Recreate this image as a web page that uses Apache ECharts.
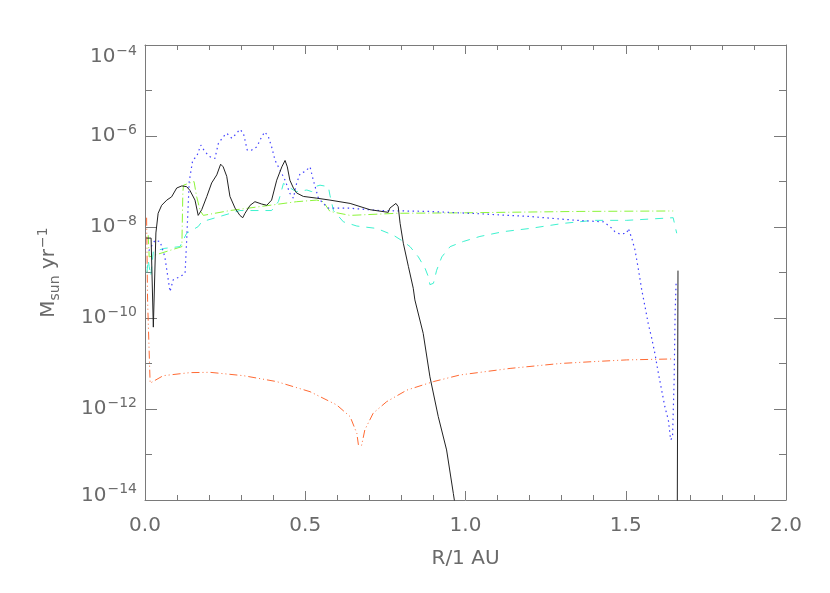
<!DOCTYPE html>
<html>
<head>
<meta charset="utf-8">
<script src="https://cdn.jsdelivr.net/npm/echarts@6/dist/echarts.min.js"></script>
<style>html,body{margin:0;padding:0;background:#fff}#c{width:830px;height:593px}</style>
</head>
<body>
<div id="c"></div>
<script>
// x in units of R/1 AU, y in Msun/yr
var blackData = [[0.004,5.7e-9],[0.019,5.7e-9],[0.026,6.3e-11],[0.034,7.4e-9],[0.041,2.0e-8],[0.052,3.0e-8],[0.068,3.9e-8],[0.083,4.6e-8],[0.099,7.2e-8],[0.115,8.0e-8],[0.130,7.7e-8],[0.140,6.4e-8],[0.156,3.9e-8],[0.166,1.8e-8],[0.177,2.4e-8],[0.193,4.7e-8],[0.208,9.3e-8],[0.224,1.4e-7],[0.236,2.4e-7],[0.244,2.1e-7],[0.255,1.3e-7],[0.265,4.7e-8],[0.281,2.6e-8],[0.296,1.8e-8],[0.305,1.6e-8],[0.312,2.0e-8],[0.328,3.0e-8],[0.343,3.6e-8],[0.364,3.2e-8],[0.380,3.0e-8],[0.395,3.9e-8],[0.411,1.07e-7],[0.427,2.1e-7],[0.437,2.9e-7],[0.444,2.1e-7],[0.452,1.07e-7],[0.463,7.2e-8],[0.473,5.6e-8],[0.494,4.7e-8],[0.536,4.3e-8],[0.577,3.9e-8],[0.640,3.3e-8],[0.702,2.4e-8],[0.759,2.1e-8],[0.764,2.6e-8],[0.783,3.3e-8],[0.790,2.8e-8],[0.796,1.2e-8],[0.806,4.4e-9],[0.822,1.34e-9],[0.837,4.5e-10],[0.842,2.5e-10],[0.868,4.6e-11],[0.889,5.1e-12],[0.915,6.8e-13],[0.941,1.26e-13],[0.962,1.4e-14],[0.970,6e-15],[1.660,1e-16],[1.663,1.1e-9]];
var blueData = [[0.012,3.0e-9],[0.031,5.1e-9],[0.047,4.8e-9],[0.062,2.2e-9],[0.078,3.8e-10],[0.088,6.9e-10],[0.109,8.1e-10],[0.125,9.6e-10],[0.130,5.1e-9],[0.138,1.0e-7],[0.149,3.0e-7],[0.161,3.5e-7],[0.174,6.3e-7],[0.187,4.5e-7],[0.203,3.5e-7],[0.218,3.2e-7],[0.229,6.9e-7],[0.244,9.6e-7],[0.255,1.15e-6],[0.271,8.9e-7],[0.286,1.15e-6],[0.296,1.4e-6],[0.307,1.15e-6],[0.319,4.9e-7],[0.333,4.9e-7],[0.349,5.8e-7],[0.364,9.6e-7],[0.374,1.23e-6],[0.385,9.6e-7],[0.395,5.8e-7],[0.406,2.9e-7],[0.421,1.8e-7],[0.437,1.07e-7],[0.452,5.5e-8],[0.463,4.3e-8],[0.473,9.1e-8],[0.484,1.5e-7],[0.499,1.65e-7],[0.515,2.1e-7],[0.525,1.07e-7],[0.541,4.3e-8],[0.556,3.3e-8],[0.572,2.6e-8],[0.634,2.6e-8],[0.733,2.3e-8],[0.889,2.2e-8],[1.045,1.95e-8],[1.201,1.7e-8],[1.347,1.4e-8],[1.430,1.3e-8],[1.451,1.02e-8],[1.466,7.9e-9],[1.482,7.0e-9],[1.503,7.3e-9],[1.508,9.3e-9],[1.519,5.6e-9],[1.529,3.1e-9],[1.539,1.23e-9],[1.550,4.1e-10],[1.560,1.8e-10],[1.570,7.6e-11],[1.581,3.6e-11],[1.591,1.65e-11],[1.602,6.0e-12],[1.612,2.6e-12],[1.622,1.12e-12],[1.633,5.7e-13],[1.640,2.1e-13],[1.646,2.4e-13],[1.651,4.4e-12],[1.654,1.27e-10],[1.657,5.8e-10]];
var greenData = [[0.010,6.6e-9],[0.013,2.2e-9],[0.016,2.4e-9],[0.115,3.7e-9],[0.118,5.5e-8],[0.120,8.3e-8],[0.153,1.0e-7],[0.161,4.7e-8],[0.172,2.3e-8],[0.182,1.8e-8],[0.265,2.3e-8],[0.390,3.0e-8],[0.473,3.6e-8],[0.536,3.9e-8],[0.556,3.6e-8],[0.577,2.2e-8],[0.640,1.8e-8],[0.785,2.0e-8],[0.993,2.05e-8],[1.357,2.2e-8],[1.648,2.25e-8]];
var cyanData = [[0.006,1.0e-9],[0.010,1.9e-9],[0.013,1.35e-9],[0.018,8.5e-10],[0.026,2.9e-9],[0.062,3.4e-9],[0.109,3.7e-9],[0.130,7.3e-9],[0.166,1.02e-8],[0.177,1.3e-8],[0.296,2.3e-8],[0.395,2.3e-8],[0.416,3.6e-8],[0.421,4.7e-8],[0.432,9.1e-8],[0.440,8.3e-8],[0.463,6.5e-8],[0.473,6.0e-8],[0.505,6.5e-8],[0.520,6.0e-8],[0.530,7.7e-8],[0.546,8.3e-8],[0.572,7.7e-8],[0.577,5.0e-8],[0.588,2.3e-8],[0.619,1.3e-8],[0.661,1.05e-8],[0.723,9.3e-9],[0.775,6.6e-9],[0.806,4.8e-9],[0.827,3.7e-9],[0.853,2.2e-9],[0.874,1.23e-9],[0.884,8.1e-10],[0.889,5.4e-10],[0.900,5.8e-10],[0.910,1.12e-9],[0.926,2.2e-9],[0.952,3.7e-9],[0.993,4.8e-9],[1.045,6.2e-9],[1.118,7.9e-9],[1.201,9.3e-9],[1.305,1.2e-8],[1.399,1.4e-8],[1.503,1.4e-8],[1.648,1.6e-8],[1.653,1.7e-8],[1.659,7.3e-9]];
var orangeData = [[0.005,1.6e-8],[0.008,2.5e-10],[0.016,3.7e-12],[0.057,5.4e-12],[0.140,6.3e-12],[0.203,6.4e-12],[0.307,5.4e-12],[0.411,4.0e-12],[0.515,2.4e-12],[0.598,1.23e-12],[0.640,6.8e-13],[0.661,2.9e-13],[0.666,1.6e-13],[0.676,1.6e-13],[0.686,3.5e-13],[0.712,8.1e-13],[0.754,1.45e-12],[0.817,2.6e-12],[0.900,4.0e-12],[0.983,5.6e-12],[1.139,7.8e-12],[1.295,1.0e-11],[1.399,1.1e-11],[1.503,1.2e-11],[1.648,1.26e-11]];
var xTickLabels = ['0.0','0.5','1.0','1.5','2.0'];

var FONT = 'DejaVu Sans';
var TXT = '#6a6a6a';
var AX = '#7a7a7a';

function yLabel(v){
  var e = Math.round(Math.log10(v));
  var s = (e < 0 ? '\u2212' + (-e) : '' + e);
  if (e === -4) return '{sd| }{b|10}{e|' + s + '}';
  if (e === -14) return '{su| }{bt|10}{et|' + s + '}';
  return '{b|10}{e|' + s + '}';
}
var yRich = {
  b: {fontSize:20, fontFamily:FONT, color:TXT, lineHeight:20, verticalAlign:'bottom'},
  e: {fontSize:14, fontFamily:FONT, color:TXT, lineHeight:14, verticalAlign:'bottom', padding:[0,0,9,1]},
  sd:{fontSize:1, lineHeight:44, verticalAlign:'bottom'},
  su:{fontSize:1, lineHeight:41, verticalAlign:'top'},
  bt:{fontSize:20, fontFamily:FONT, color:TXT, lineHeight:20, verticalAlign:'top', padding:[6,0,0,0]},
  et:{fontSize:14, fontFamily:FONT, color:TXT, lineHeight:14, verticalAlign:'top', padding:[3,0,0,1]}
};

function xAxisDef(pos, withLabels){
  return {
    type:'value', position:pos, min:0, max:2, interval:0.5, gridIndex:0,
    axisLine:{show:true, onZero:false, lineStyle:{color:AX, width:1}},
    axisTick:{show:true, inside:true, length:9, lineStyle:{color:AX}},
    minorTick:{show:true, splitNumber:5, length:5, lineStyle:{color:AX}},
    splitLine:{show:false},
    axisLabel:{show:withLabels, margin:16, fontSize:20, fontFamily:FONT, color:TXT,
      formatter:function(v){ return xTickLabels[Math.round(v/0.5)]; }},
    name: withLabels ? 'R/1 AU' : '',
    nameLocation:'middle', nameGap:49,
    nameTextStyle:{fontSize:20, fontFamily:FONT, color:TXT}
  };
}
function yAxisDef(pos, interval, len, labels, line){
  var a = {
    type:'log', logBase:10, position:pos, min:1e-14, max:1e-4, interval:interval, gridIndex:0,
    axisLine:{show:line, onZero:false, lineStyle:{color:AX, width:1}},
    axisTick:{show:true, inside:true, length:len, lineStyle:{color:AX}},
    splitLine:{show:false},
    axisLabel:{show:labels, margin:8, formatter:yLabel, rich:yRich}
  };
  if (labels) {
    a.name = '{m|M}{s|sun}{m| yr}{p|\u22121}';
    a.nameLocation = 'middle';
    a.nameGap = 86;
    a.nameRotate = 90;
    a.nameTextStyle = {rich:{
      m:{fontSize:20, fontFamily:FONT, color:TXT, lineHeight:20, verticalAlign:'bottom'},
      s:{fontSize:14, fontFamily:FONT, color:TXT, lineHeight:14, verticalAlign:'bottom', padding:[0,0,-3,0]},
      p:{fontSize:14, fontFamily:FONT, color:TXT, lineHeight:14, verticalAlign:'bottom', padding:[0,0,9,1]}
    }};
  }
  return a;
}

function lineSeries(data, color, dash, width){
  return {
    type:'line', data:data, xAxisIndex:0, yAxisIndex:0,
    showSymbol:false, symbol:'none', clip:true, animation:false,
    lineStyle:{color:color, width:width, type:dash}
  };
}

var chart = echarts.init(document.getElementById('c'), null, {renderer:'canvas'});
chart.setOption({
  animation:false,
  backgroundColor:'#fff',
  grid:{left:145, top:45, right:44, bottom:93, containLabel:false},
  xAxis:[xAxisDef('bottom', true), xAxisDef('top', false)],
  yAxis:[
    yAxisDef('left', 2, 12, true, true),
    yAxisDef('left', 1, 7, false, false),
    yAxisDef('right', 2, 12, false, true),
    yAxisDef('right', 1, 7, false, false)
  ],
  series:[
    lineSeries(orangeData, '#ff6a33', [8,3,1,3,1,3], 1),
    lineSeries(greenData, '#8cf53a', [9,3,1,3], 1),
    lineSeries(cyanData, '#3df2cf', [8,7], 1),
    lineSeries(blueData, '#4040ff', [1.5,3.5], 1.2),
    lineSeries(blackData, '#222222', 'solid', 1)
  ]
});
</script>
</body>
</html>
